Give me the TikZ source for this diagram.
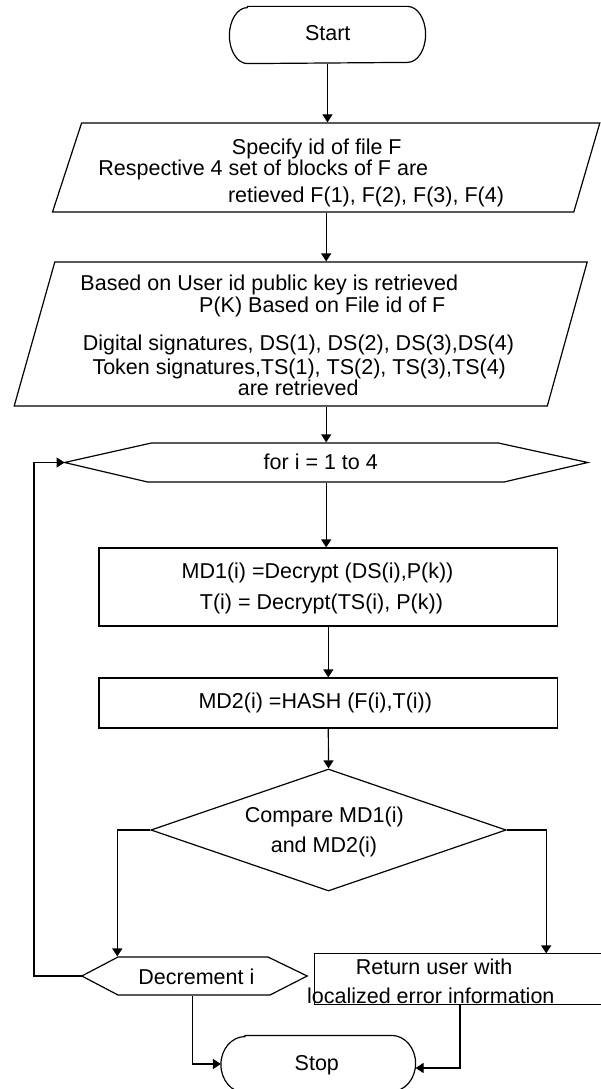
\documentclass[tikz,border=0pt]{standalone}
\usepackage{fontspec}
\setmainfont{Liberation Sans}
\usetikzlibrary{arrows.meta,shapes.geometric}
\begin{document}
\begin{tikzpicture}[x=1pt,y=1pt,line width=1.2pt,
  arr/.style={-{Triangle[length=8pt,width=10pt]}},
  txt/.style={inner sep=0pt,anchor=base,font=\fontsize{21.5}{25}\selectfont},
  bx/.style={draw=none,inner sep=0pt,rectangle}]
\useasboundingbox (0,0) rectangle (601,-1089);
\clip (0,0) rectangle (601,-1089);
\fill[white] (0,0) rectangle (601,-1089);

% anchor nodes for the shapes
\node[bx,minimum width=195,minimum height=56] (start) at (327.5,-35) {};
\node[bx,minimum width=547.3,minimum height=89] (p1) at (326.2,-167.5) {};
\node[bx,minimum width=573,minimum height=144] (p2) at (300.7,-334) {};
\node[bx,minimum width=522,minimum height=39] (hex1) at (326.2,-462.5) {};
\node[draw,rectangle,inner sep=0pt,minimum width=458.8,minimum height=78] (r1) at (328.3,-587) {};
\node[draw,rectangle,inner sep=0pt,minimum width=458.8,minimum height=50] (r2) at (328.3,-703) {};
\node[draw,diamond,inner sep=0pt,minimum width=355.3,minimum height=122] (dia) at (328.5,-830) {};
\node[bx,minimum width=224.2,minimum height=38] (dec) at (194.5,-976) {};
\node[bx,minimum width=304.6,minimum height=50] (ret) at (467.7,-979) {};
\node[bx,minimum width=193.5,minimum height=56] (stop) at (318.25,-1064) {};

% outlines
\draw ([xshift=18]start.north west) -- ([xshift=-18]start.north east)
  arc[start angle=90,end angle=-90,x radius=18,y radius=28]
  -- ([xshift=18]start.south west)
  arc[start angle=270,end angle=90,x radius=18,y radius=28] -- cycle;
\draw (81.6,-123) -- (599.8,-123) -- (573.8,-212) -- (52.5,-212) -- cycle;
\draw (54.8,-262) -- (587.2,-262) -- (547.3,-406) -- (14.2,-406) -- cycle;
\draw (hex1.west) -- (151.4,-443) -- (498.3,-443) -- (hex1.east) -- (504,-482) -- (147.6,-482) -- cycle;
\draw (dec.west) -- (118,-957) -- (268,-957) -- (dec.east) -- (270,-995) -- (118,-995) -- cycle;
\draw (ret.north east) -- (ret.north west) -- (ret.south west) -- (ret.south east);
\draw ([xshift=24]stop.north west) -- ([xshift=-24]stop.north east)
  arc[start angle=90,end angle=-90,x radius=24,y radius=28]
  -- ([xshift=24]stop.south west)
  arc[start angle=270,end angle=90,x radius=24,y radius=28] -- cycle;

% texts
\node[txt] (tstart) at (327.7,-40.5) {Start};
\node[txt] (t1a) at (316.8,-154.5) {Specify id of file F};
\node[txt] (t1b) at (263.3,-175.5) {Respective 4 set of blocks of F are};
\node[txt] (t1c) at (366,-202.5) {retieved F(1), F(2), F(3), F(4)};
\node[txt] (t2a) at (269.3,-290.5) {Based on User id public key is retrieved};
\node[txt] (t2b) at (322.3,-312.5) {P(K) Based on File id of F};
\node[txt] (t2c) at (298.4,-350) {Digital signatures, DS(1), DS(2), DS(3),DS(4)};
\node[txt] (t2d) at (299.2,-374) {Token signatures,TS(1), TS(2), TS(3),TS(4)};
\node[txt] (t2e) at (298.2,-395.5) {are retrieved};
\node[txt] (thex) at (320.8,-469) {for i = 1 to 4};
\node[txt] (tr1a) at (317.5,-578) {MD1(i) =Decrypt (DS(i),P(k))};
\node[txt] (tr1b) at (321.4,-609) {T(i) = Decrypt(TS(i), P(k))};
\node[txt] (tr2) at (315.3,-708) {MD2(i) =HASH (F(i),T(i))};
\node[txt] (tdia1) at (324.3,-822.5) {Compare MD1(i)};
\node[txt] (tdia2) at (324,-852.5) {and MD2(i)};
\node[txt] (tdec) at (196.4,-984) {Decrement i};
\node[txt] (tret1) at (434.1,-974) {Return user with};
\node[txt] (tret2) at (430.8,-1003) {localized error information};
\node[txt] (tstop) at (316.8,-1070.5) {Stop};

% connectors
\draw[arr] (start.south) -- (start.south |- p1.north);
\draw[arr] (p1.south) -- (p1.south |- p2.north);
\draw[arr] (p2.south -| hex1.north) -- (hex1.north);
\draw[arr] (hex1.south) -- (hex1.south |- r1.north);
\draw[arr] (r1.south) -- (r2.north);
\draw[arr] (r2.south) -- (dia.north);
\draw[arr] (dia.west) -| ([xshift=-77.2]dec.north);
\draw[arr] (dia.east) -| ([xshift=78.5]ret.north);
\draw[arr] (dec.west) -- ++(-47.9,0) |- (hex1.west);
\draw[arr] ([xshift=-1.7]dec.south) |- (stop.west);
\draw[arr] ([xshift=-7.7]ret.south) |- ([yshift=-4]stop.east);
\end{tikzpicture}
\end{document}
